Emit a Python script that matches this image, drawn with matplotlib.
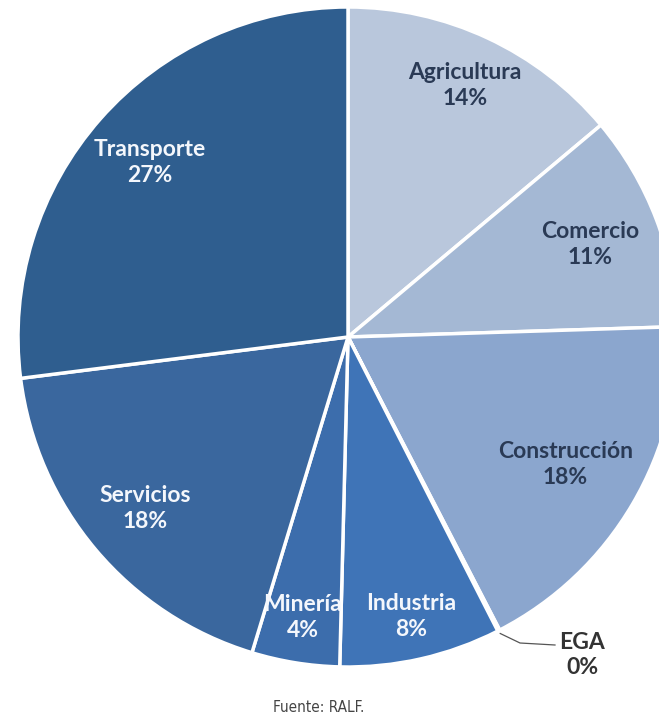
import numpy as np
import matplotlib.pyplot as plt

sectores = ['Agricultura', 'Comercio', 'Construcción', 'EGA', 'Industria',
            'Minería', 'Servicios', 'Transporte']
porcentajes = [13.9, 10.6, 17.9, 0.1, 7.9, 4.3, 18.3, 27.0]
colores = ['#b9c7dc', '#a4b8d4', '#8ba6ce', '#3f73b4', '#3f74b7',
           '#3c6dac', '#3a679e', '#2f5e8f']
color_texto = ['#2a3a55', '#2a3a55', '#2a3a55', '#333333', '#f4f7fc',
               '#f4f7fc', '#f4f7fc', '#f4f7fc']

W, H = 659, 717
CX, CY, R = 348, 337, 330   # pie centre and radius in pixels

fig = plt.figure(figsize=(W / 100, H / 100), dpi=100)
ax = fig.add_axes([(CX - R) / W, (H - CY - R) / H, 2 * R / W, 2 * R / H])

wedges, _ = ax.pie(porcentajes, colors=colores, startangle=90, counterclock=False,
                   radius=1, wedgeprops=dict(edgecolor='white', linewidth=2.5))
ax.set_xlim(-1, 1)
ax.set_ylim(-1, 1)
ax.set_aspect('equal')
ax.axis('off')

# radial distance of each label (fraction of radius)
label_r = [0.84, 0.785, 0.763, None, 0.868, 0.86, 0.805, 0.80]

for w, nombre, pct, r, col in zip(wedges, sectores, porcentajes, label_r, color_texto):
    if r is None:
        continue
    ang = np.deg2rad((w.theta1 + w.theta2) / 2)
    ax.text(r * np.cos(ang), r * np.sin(ang), f'{nombre}\n{pct:.0f}%', ha='center', va='center',
            color=col, fontsize=16.5, fontweight='bold', family='Lato', linespacing=1.28)

# EGA label with a leader line
ega = wedges[sectores.index('EGA')]
a = np.deg2rad((ega.theta1 + ega.theta2) / 2)
x0, y0 = 1.01 * np.cos(a), 1.01 * np.sin(a)
def px(x, y):
    return (x - CX) / R, (CY - y) / R
x1, y1 = px(520, 643)
x2, y2 = px(555, 645)
ax.plot([x0, x1, x2], [y0, y1, y2], color='#555555', lw=0.9, clip_on=False)
tx, ty = px(582, 655)
ax.text(tx, ty, f'EGA\n{porcentajes[3]:.0f}%', ha='center', va='center', color='#333333',
        fontsize=16.5, fontweight='bold', family='Lato', linespacing=1.22, clip_on=False)

fig.text(319 / W, 1 - 707 / H, 'Fuente: RALF.', ha='center', va='center',
         fontsize=11, color='#444444', family='DejaVu Sans', stretch='condensed')

fig.savefig('out.png', dpi=100)
